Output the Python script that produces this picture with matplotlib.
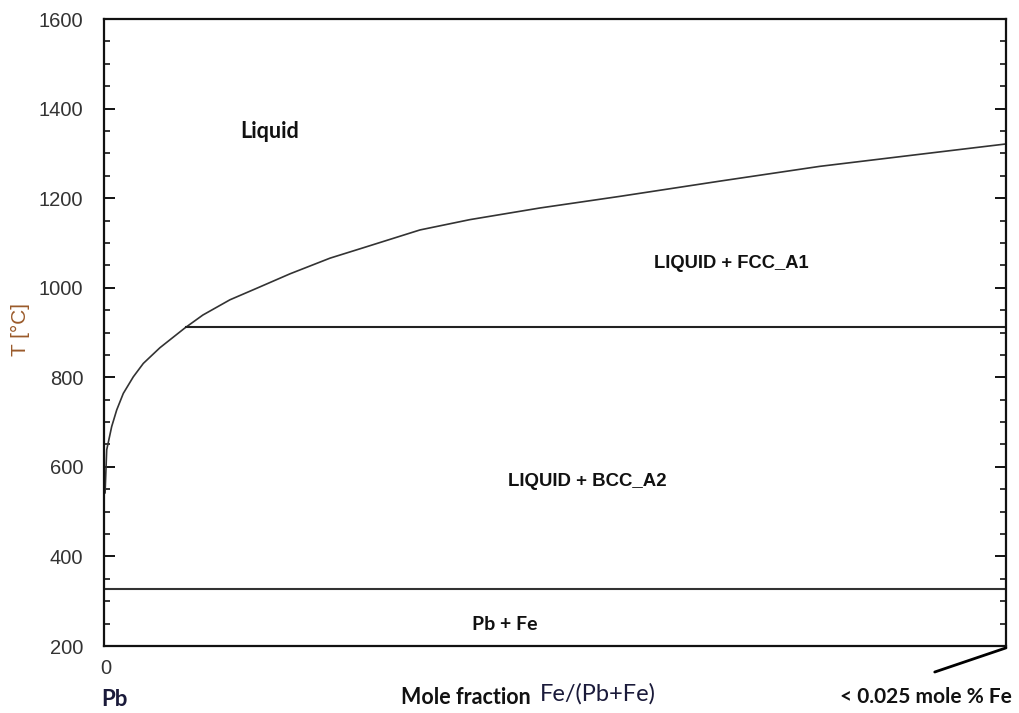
import numpy as np
import matplotlib
matplotlib.use('Agg')
import matplotlib.pyplot as plt
from matplotlib.ticker import MultipleLocator, NullLocator

# liquidus: Fe content in mole %, temperature in degC
liq_x = [0.00003, 0.000075, 0.000213, 0.000352, 0.000535, 0.000812, 0.00109,
         0.00155, 0.00224, 0.00274, 0.00349, 0.00424, 0.005155, 0.006264,
         0.007179, 0.008758, 0.01014, 0.01208, 0.0143, 0.01707, 0.01984,
         0.02262, 0.025]
liq_T = [542, 638, 690, 727, 764, 801, 831, 866, 910, 939, 973, 999, 1031,
         1066, 1089, 1129, 1152, 1178, 1204, 1238, 1271, 1298, 1321]

peritectic_T = 912     # BCC -> FCC line
pb_melt_T = 327        # Pb melting
x_max = 0.025

regions = ['Liquid', 'LIQUID + FCC_A1', 'LIQUID + BCC_A2', 'Pb + Fe']
region_x = [0.0046, 0.01738, 0.01339, 0.01111]
region_T = [1348, 1055, 568, 247]

fig = plt.figure(figsize=(10.2, 7.13), dpi=100)
ax = fig.add_axes([104/1020, 67/713, 902/1020, 627/713])

ax.plot(liq_x, liq_T, color='#333333', lw=1.2)
ax.plot([np.interp(peritectic_T, liq_T, liq_x), x_max], [peritectic_T] * 2,
        color='#222222', lw=1.5)
ax.plot([0, x_max], [pb_melt_T] * 2, color='#333333', lw=1.5)

ax.set_xlim(0, x_max)
ax.set_ylim(200, 1600)
ax.yaxis.set_major_locator(MultipleLocator(200))
ax.yaxis.set_minor_locator(MultipleLocator(50))
ax.xaxis.set_major_locator(NullLocator())
ax.tick_params(axis='y', which='both', direction='in', right=True,
               labelsize=14.5, labelcolor='#333333', pad=15)
ax.tick_params(axis='y', which='major', length=8, width=1.3)
ax.tick_params(axis='y', which='minor', length=4, width=1.1)
for lab in ax.get_yticklabels():
    lab.set_family('Liberation Sans')
for sp in ax.spines.values():
    sp.set_linewidth(1.6)
    sp.set_color('#111111')

fonts = ['Lato', 'Liberation Sans', 'Liberation Sans', 'Lato']
sizes = [15.5, 13.2, 13.4, 14]
for name, xx, tt, fam, fs in zip(regions, region_x, region_T, fonts, sizes):
    ax.text(xx, tt, name, ha='center', va='center', fontweight='bold',
            fontsize=fs, family=fam, color='#111111')

# pointer from the right end of the axis to the note below it
ax.annotate('', xy=(1, -0.003), xycoords='axes fraction',
            xytext=(0.921, -0.0415), textcoords='axes fraction',
            arrowprops=dict(arrowstyle='-', lw=2, color='black',
                            shrinkA=0, shrinkB=0))

def px(x, y):
    return x / 1020, 1 - y / 713

fig.text(*px(106, 668), '0', ha='center', va='center', fontsize=14.5,
         family='Liberation Sans', color='#333333')
fig.text(*px(101, 700), 'Pb', ha='left', va='center', fontsize=16,
         fontweight='bold', family='Lato', color='#1a1a3a')
fig.text(*px(401, 697), 'Mole fraction', ha='left', va='center', fontsize=15.5,
         fontweight='bold', family='Lato', color='#111111')
fig.text(*px(540, 694), 'Fe/(Pb+Fe)', ha='left', va='center', fontsize=17,
         family='Lato', color='#1a1a3a')
fig.text(*px(840, 697), '< 0.025 mole % Fe', ha='left', va='center',
         fontsize=15, fontweight='bold', family='Lato', color='#111111')
fig.text(*px(20, 329), 'T [°C]', ha='center', va='center', rotation=90,
         fontsize=15, family='Liberation Sans', color='#9a5a2a')

fig.savefig('out.png', dpi=100)
